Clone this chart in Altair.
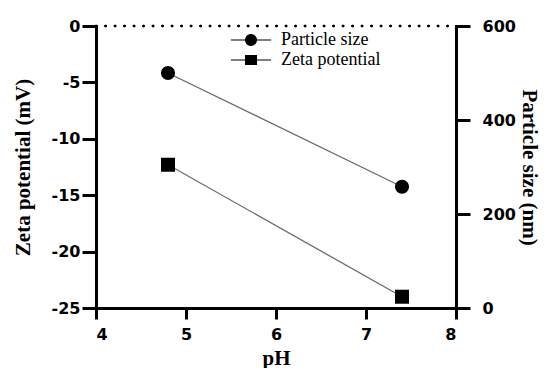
import altair as alt
import pandas as pd

# ---- data ----
ph = [4.8, 7.4]
particle_size = [500, 258]
zeta_potential = [-12.3, -24.0]
series_names = ["Particle size", "\u00a0Zeta potential"]
x_ticks = [4, 5, 6, 7, 8]
zeta_ticks = [-25, -20, -15, -10, -5, 0]
size_ticks = [0, 200, 400, 600]

ps_df = pd.DataFrame({"pH": ph, "size": particle_size})
zp_df = pd.DataFrame({"pH": ph, "zeta": zeta_potential})
legend_df = pd.DataFrame({"series": series_names})

circle_path = ("M1,0A1,1 0 1,1 -1,0A1,1 0 1,1 1,0Z "
               "M-3.35,-0.09H-0.98V0.09H-3.35Z M0.98,-0.09H3.35V0.09H0.98Z")
square_path = ("M-1,-0.85H1V0.85H-1Z "
               "M-3.35,-0.09H-1V0.09H-3.35Z M1,-0.09H3.35V0.09H1Z")

x_enc = alt.X("pH:Q", scale=alt.Scale(domain=[4, 8], nice=False, zero=False),
              axis=alt.Axis(values=x_ticks, title="pH", tickSize=11, format="d",
                            labelPadding=7, titlePadding=5))

y_left = alt.Y("zeta:Q", scale=alt.Scale(domain=[-25, 0], nice=False),
               axis=alt.Axis(values=zeta_ticks, title="Zeta potential (mV)",
                             orient="left", tickSize=14, labelPadding=2,
                             titlePadding=18, labelExpr="datum.value + ''"))

y_right = alt.Y("size:Q", scale=alt.Scale(domain=[0, 600], nice=False),
                axis=alt.Axis(values=size_ticks, title="Particle size (nm)",
                              orient="right", tickSize=14, labelPadding=12,
                              titlePadding=3))

zeta_line = alt.Chart(zp_df).mark_line(color="#6b6b6b", strokeWidth=1.3).encode(x=x_enc, y=y_left)
zeta_pts = alt.Chart(zp_df).mark_point(shape="square", filled=True, size=196,
                                       color="black", opacity=1).encode(x=x_enc, y=y_left)
zero_rule = alt.Chart(zp_df).mark_rule(color="black", strokeWidth=2.6, strokeCap="round",
                                       strokeDash=[0.1, 9.4]).encode(
    x=alt.datum(4), x2=alt.datum(8), y=alt.datum(0))

legend_layer = alt.Chart(legend_df).mark_point(filled=True, opacity=0, color="black").encode(
    shape=alt.Shape("series:N", sort=series_names,
                    scale=alt.Scale(domain=series_names, range=[circle_path, square_path]),
                    legend=alt.Legend(title=None, orient="none", legendX=146, legendY=5,
                                      symbolSize=144, symbolFillColor="black",
                                      symbolStrokeColor="black",
                                      symbolStrokeWidth=0, symbolOpacity=1,
                                      labelFont="Liberation Serif", labelFontSize=18,
                                      labelColor="black", labelOffset=21,
                                      rowPadding=2, padding=0))
)

ps_line = alt.Chart(ps_df).mark_line(color="#6b6b6b", strokeWidth=1.3).encode(x=x_enc, y=y_right)
ps_pts = alt.Chart(ps_df).mark_point(shape="circle", filled=True, size=200,
                                     color="black", opacity=1).encode(x=x_enc, y=y_right)

left_layer = alt.layer(zero_rule, zeta_line, zeta_pts, legend_layer)
right_layer = alt.layer(ps_line, ps_pts)

chart = alt.layer(left_layer, right_layer).resolve_scale(y="independent").properties(
    width=360, height=282,
    autosize=alt.AutoSizeParams(type="none"),
    padding={"left": 88, "top": 18, "right": 90, "bottom": 60},
).configure_axis(
    domainColor="black", domainWidth=3, domainCap="square",
    tickColor="black", tickWidth=3,
    labelFont="DejaVu Sans", labelFontWeight="bold", labelFontSize=16, labelColor="black",
    titleFont="Liberation Serif", titleFontSize=21, titleFontWeight="bold", titleColor="black",
    grid=False,
).configure_view(strokeOpacity=0)

chart.save("out.html", embed_options={"renderer": "svg", "actions": False})
